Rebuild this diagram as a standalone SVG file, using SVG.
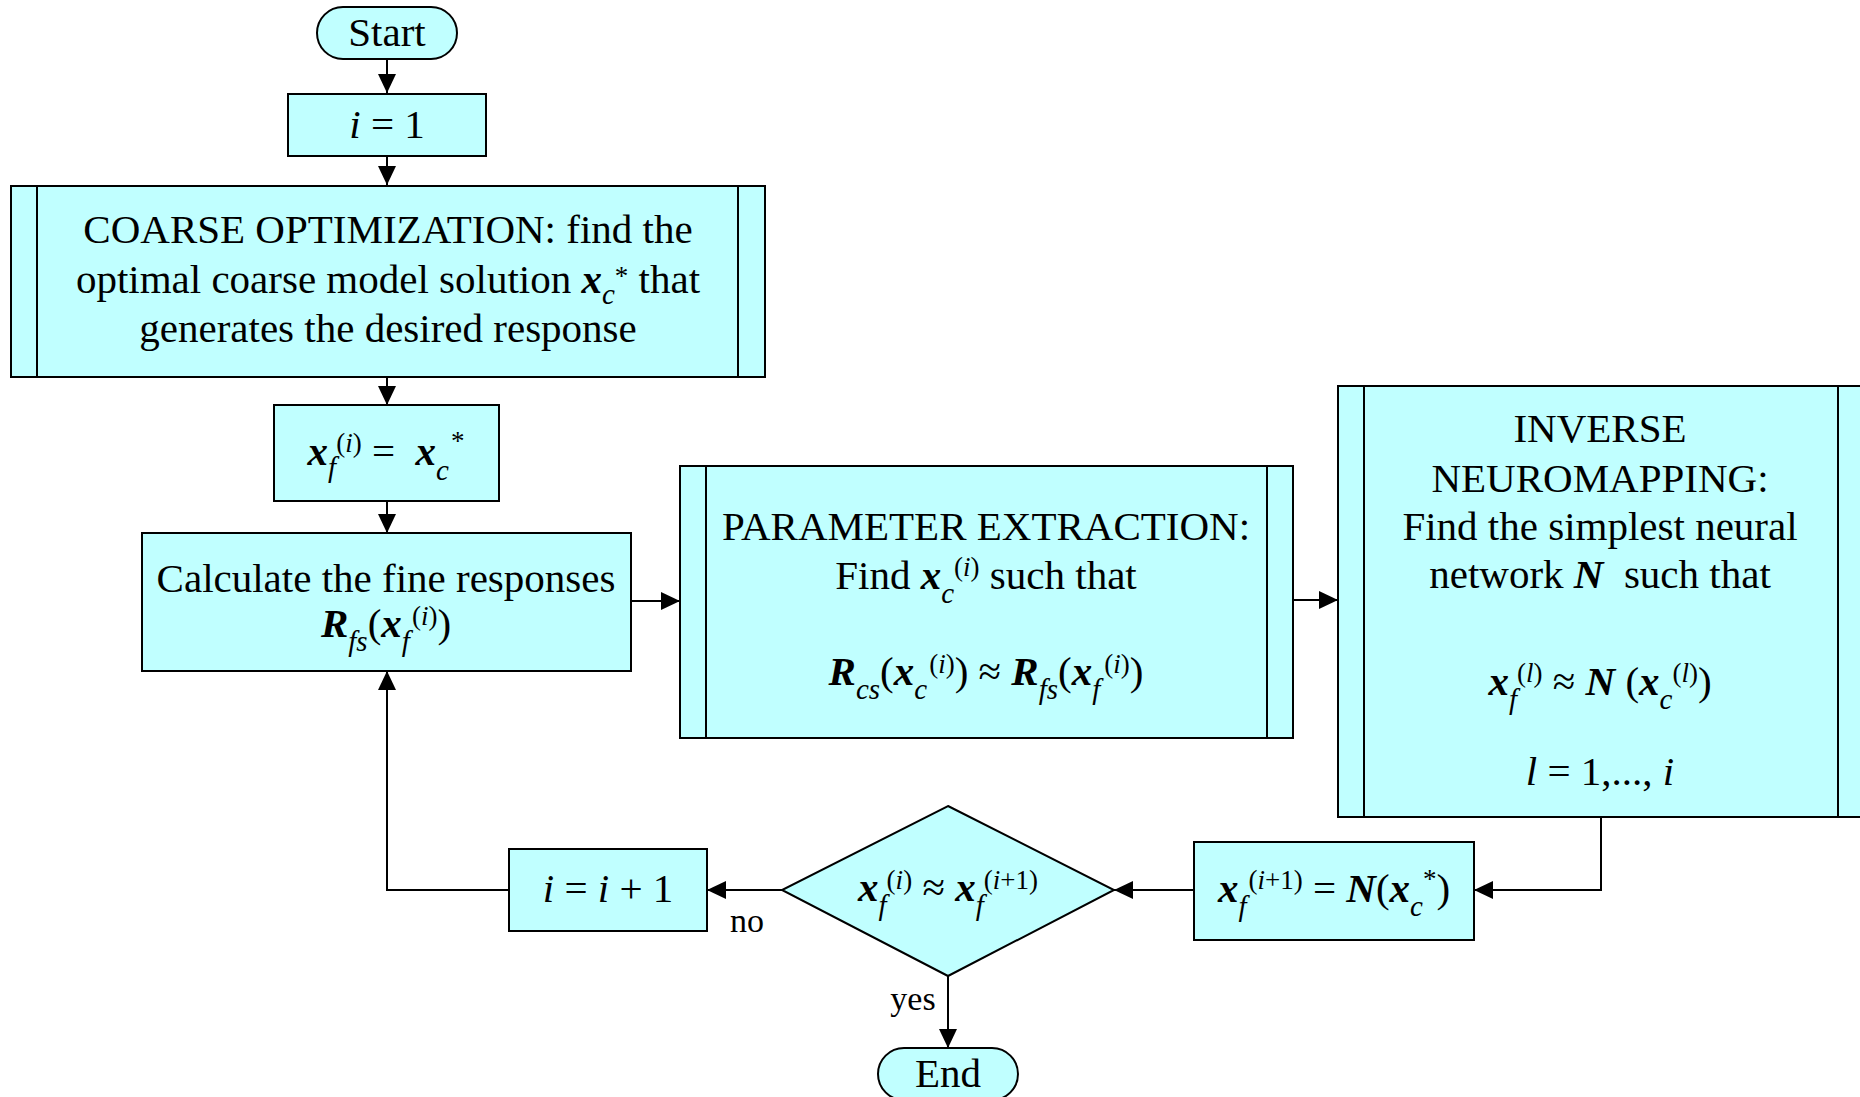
<svg xmlns="http://www.w3.org/2000/svg" width="1860" height="1097" viewBox="0 0 1860 1097">
<defs>
<marker id="ah" markerUnits="userSpaceOnUse" markerWidth="20" markerHeight="20" refX="19" refY="9" orient="auto">
<path d="M0,0 L19,9 L0,18 z" fill="#000"/>
</marker>
<style>
.box{fill:#C0FFFF;stroke:#000;stroke-width:2}
.ln{fill:none;stroke:#000;stroke-width:2}
.con{fill:none;stroke:#000;stroke-width:2;marker-end:url(#ah)}
text{font-family:"Liberation Serif","Times New Roman",serif;font-size:41px;fill:#000;text-anchor:middle}
.f{font-size:41px}
.bi{font-weight:bold;font-style:italic}
.it{font-style:italic}
.s{font-size:29px}
.p{font-size:27px}
.lbl{font-size:34px}
</style>
</defs>
<rect width="1860" height="1097" fill="#fff"/>

<g id="connectors">
<line class="con" x1="387" y1="59" x2="387" y2="93"/>
<line class="con" x1="387" y1="156" x2="387" y2="185"/>
<line class="con" x1="387" y1="377" x2="387" y2="405"/>
<line class="con" x1="387" y1="501" x2="387" y2="533"/>
<line class="con" x1="631" y1="601" x2="680" y2="601"/>
<line class="con" x1="1293" y1="600" x2="1338" y2="600"/>
<polyline class="con" points="1601,817 1601,890 1474,890"/>
<line class="con" x1="1194" y1="890" x2="1114" y2="890"/>
<line class="con" x1="782" y1="890" x2="707" y2="890"/>
<polyline class="con" points="509,890 387,890 387,671"/>
<line class="con" x1="948" y1="976" x2="948" y2="1048"/>
<text class="lbl" x="747" y="932">no</text>
<text class="lbl" x="913" y="1010">yes</text>
</g>

<g id="start">
<rect class="box" x="317" y="7" width="140" height="52" rx="26" ry="26"/>
<text x="387" y="46">Start</text>
</g>

<g id="init">
<rect class="box" x="288" y="94" width="198" height="62"/>
<text x="387" y="138"><tspan class="it">i</tspan> = 1</text>
</g>

<g id="coarse">
<rect class="box" x="11" y="186" width="754" height="191"/>
<line class="ln" x1="37" y1="186" x2="37" y2="377"/>
<line class="ln" x1="738" y1="186" x2="738" y2="377"/>
<text x="388" y="243">COARSE OPTIMIZATION: find the</text>
<text x="388" y="293">optimal coarse model solution <tspan class="bi">x</tspan><tspan class="it s" dy="11">c</tspan><tspan class="p" dy="-19">*</tspan><tspan dy="8"> that</tspan></text>
<text x="388" y="342">generates the desired response</text>
</g>

<g id="assign">
<rect class="box" x="274" y="405" width="225" height="96"/>
<text class="f" x="386" y="465"><tspan class="bi">x</tspan><tspan class="it s" dy="12">f</tspan><tspan class="p" dy="-25">(<tspan class="it">i</tspan>)</tspan><tspan dy="13"> =&#160; </tspan><tspan class="bi">x</tspan><tspan class="it s" dy="15">c</tspan><tspan class="p" dx="2" dy="-30">*</tspan></text>
</g>

<g id="calc">
<rect class="box" x="142" y="533" width="489" height="138"/>
<text x="386" y="592">Calculate the fine responses</text>
<text class="f" x="386" y="637"><tspan class="bi">R</tspan><tspan class="it s" dy="14">fs</tspan><tspan dy="-14">(</tspan><tspan class="bi">x</tspan><tspan class="it s" dy="14">f</tspan><tspan class="p" dx="2" dy="-26">(<tspan class="it">i</tspan>)</tspan><tspan dy="12">)</tspan></text>
</g>

<g id="extract">
<rect class="box" x="680" y="466" width="613" height="272"/>
<line class="ln" x1="706" y1="466" x2="706" y2="738"/>
<line class="ln" x1="1267" y1="466" x2="1267" y2="738"/>
<text x="986" y="540">PARAMETER EXTRACTION:</text>
<text x="986" y="589">Find <tspan class="bi">x</tspan><tspan class="it s" dy="14">c</tspan><tspan class="p" dy="-27">(<tspan class="it">i</tspan>)</tspan><tspan dy="13"> such that</tspan></text>
<text class="f" x="986" y="685"><tspan class="bi">R</tspan><tspan class="it s" dy="14">cs</tspan><tspan dy="-14">(</tspan><tspan class="bi">x</tspan><tspan class="it s" dy="14">c</tspan><tspan class="p" dx="2" dy="-26">(<tspan class="it">i</tspan>)</tspan><tspan dy="12">) ≈ </tspan><tspan class="bi">R</tspan><tspan class="it s" dy="14">fs</tspan><tspan dy="-14">(</tspan><tspan class="bi">x</tspan><tspan class="it s" dy="14">f</tspan><tspan class="p" dx="4" dy="-26">(<tspan class="it">i</tspan>)</tspan><tspan dy="12">)</tspan></text>
</g>

<g id="inverse">
<rect class="box" x="1338" y="386" width="530" height="431"/>
<line class="ln" x1="1364" y1="386" x2="1364" y2="817"/>
<line class="ln" x1="1838" y1="386" x2="1838" y2="817"/>
<text x="1600" y="442">INVERSE</text>
<text x="1600" y="492">NEUROMAPPING:</text>
<text x="1600" y="540">Find the simplest neural</text>
<text x="1600" y="588">network <tspan class="bi">N</tspan>&#160; such that</text>
<text class="f" x="1600" y="695"><tspan class="bi">x</tspan><tspan class="it s" dy="14">f</tspan><tspan class="p" dy="-27">(<tspan class="it">l</tspan>)</tspan><tspan dy="13"> ≈ </tspan><tspan class="bi">N</tspan><tspan> (</tspan><tspan class="bi">x</tspan><tspan class="it s" dy="14">c</tspan><tspan class="p" dy="-27">(<tspan class="it">l</tspan>)</tspan><tspan dy="13">)</tspan></text>
<text class="f" x="1600" y="785"><tspan class="it">l</tspan> = 1,..., <tspan class="it">i</tspan></text>
</g>

<g id="update">
<rect class="box" x="1194" y="842" width="280" height="98"/>
<text class="f" x="1334" y="902"><tspan class="bi">x</tspan><tspan class="it s" dy="14">f</tspan><tspan class="p" dx="2" dy="-27">(<tspan class="it">i</tspan>+1)</tspan><tspan dy="13"> = </tspan><tspan class="bi">N</tspan><tspan>(</tspan><tspan class="bi">x</tspan><tspan class="it s" dy="14">c</tspan><tspan class="p" dy="-28">*</tspan><tspan dy="14">)</tspan></text>
</g>

<g id="decision">
<polygon class="box" points="948,806 1114,890 948,976 782,890"/>
<text class="f" x="948" y="901"><tspan class="bi">x</tspan><tspan class="it s" dy="14">f</tspan><tspan class="p" dy="-26">(<tspan class="it">i</tspan>)</tspan><tspan dy="12"> ≈ </tspan><tspan class="bi">x</tspan><tspan class="it s" dy="14">f</tspan><tspan class="p" dy="-26">(<tspan class="it">i</tspan>+1)</tspan></text>
</g>

<g id="increment">
<rect class="box" x="509" y="849" width="198" height="82"/>
<text x="608" y="902"><tspan class="it">i</tspan> = <tspan class="it">i</tspan> + 1</text>
</g>

<g id="end">
<rect class="box" x="878" y="1048" width="140" height="52" rx="26" ry="26"/>
<text x="948" y="1087">End</text>
</g>
</svg>
